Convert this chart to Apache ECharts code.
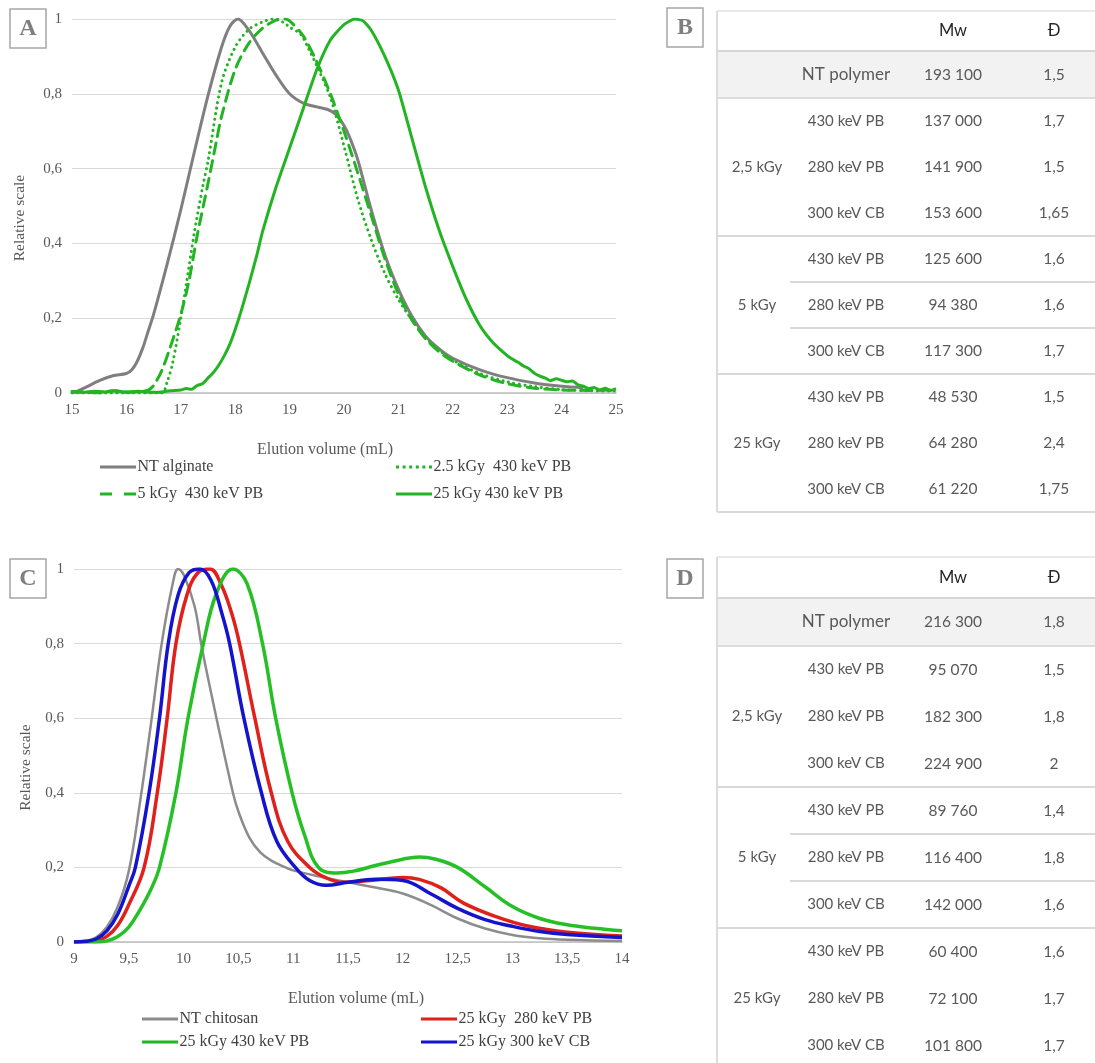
<!DOCTYPE html>
<html>
<head>
<meta charset="utf-8">
<script src="https://cdn.jsdelivr.net/npm/echarts@6/dist/echarts.min.js"></script>
<style>html,body{margin:0;padding:0;background:#fff;}#chart{width:1095px;height:1063px;}</style>
</head>
<body>
<div id="chart"></div>
<script>
// ---------- Panel A data: [elution volume (mL), relative scale] ----------
const aNtAlginate = [[15.0,0.0],[15.1,0.005],[15.25,0.015],[15.5,0.033],[15.75,0.046],[16.0,0.052],[16.1,0.062],[16.2,0.085],[16.3,0.12],[16.4,0.165],[16.5,0.21],[16.75,0.345],[17.0,0.49],[17.25,0.645],[17.5,0.795],[17.75,0.925],[17.9,0.98],[18.05,1.0],[18.25,0.97],[18.5,0.91],[18.75,0.85],[19.0,0.8],[19.25,0.775],[19.5,0.765],[19.7,0.758],[19.85,0.745],[20.0,0.715],[20.1,0.685],[20.25,0.625],[20.5,0.49],[20.75,0.37],[21.0,0.278],[21.25,0.205],[21.5,0.152],[21.75,0.118],[22.0,0.093],[22.5,0.062],[23.0,0.041],[23.5,0.027],[24.0,0.018],[24.4,0.014]];
const a25kGy430Dot = [[15.0,0.0],[16.0,0.0],[16.65,0.0],[16.75,0.03],[16.85,0.08],[17.0,0.2],[17.1,0.29],[17.25,0.43],[17.4,0.55],[17.5,0.62],[17.75,0.83],[18.0,0.925],[18.25,0.972],[18.5,0.992],[18.7,1.0],[18.9,0.99],[19.0,0.978],[19.2,0.96],[19.35,0.92],[19.5,0.875],[19.75,0.79],[20.0,0.66],[20.25,0.52],[20.5,0.41],[20.75,0.32],[21.0,0.25],[21.25,0.195],[21.5,0.148],[21.75,0.115],[22.0,0.088],[22.5,0.052],[23.0,0.03],[23.5,0.017],[24.0,0.009],[24.5,0.006],[25.0,0.005]];
const a5kGy430Dash = [[15.0,0.004],[15.25,0.002],[15.5,0.0],[15.75,0.006],[16.0,0.003],[16.25,0.004],[16.4,0.008],[16.5,0.02],[16.65,0.06],[16.8,0.12],[17.0,0.21],[17.15,0.3],[17.3,0.42],[17.5,0.56],[17.65,0.67],[17.75,0.74],[18.0,0.865],[18.25,0.935],[18.5,0.975],[18.75,0.997],[18.9,1.0],[19.0,0.995],[19.25,0.955],[19.5,0.885],[19.75,0.8],[20.0,0.7],[20.25,0.59],[20.5,0.475],[20.75,0.36],[21.0,0.265],[21.25,0.195],[21.5,0.145],[21.75,0.11],[22.0,0.085],[22.5,0.048],[23.0,0.025],[23.5,0.013],[24.0,0.008],[24.5,0.007],[25.0,0.008]];
const a25kGy430 = [[15.0,0.004],[15.2,0.002],[15.4,0.005],[15.6,0.003],[15.8,0.006],[16.0,0.002],[16.2,0.005],[16.4,0.003],[16.6,0.002],[16.8,0.006],[17.0,0.008],[17.1,0.012],[17.2,0.01],[17.3,0.02],[17.4,0.025],[17.5,0.04],[17.6,0.055],[17.7,0.075],[17.8,0.1],[17.9,0.13],[18.0,0.17],[18.1,0.215],[18.25,0.29],[18.4,0.37],[18.5,0.43],[18.75,0.55],[19.0,0.655],[19.25,0.76],[19.5,0.865],[19.75,0.944],[20.0,0.985],[20.2,1.0],[20.35,0.995],[20.5,0.97],[20.75,0.9],[21.0,0.81],[21.25,0.68],[21.5,0.55],[21.75,0.435],[22.0,0.338],[22.25,0.25],[22.5,0.18],[22.75,0.133],[23.0,0.1],[23.1,0.09],[23.2,0.082],[23.3,0.072],[23.4,0.065],[23.5,0.053],[23.6,0.045],[23.7,0.04],[23.8,0.033],[23.9,0.038],[24.0,0.034],[24.1,0.03],[24.2,0.032],[24.3,0.022],[24.4,0.018],[24.5,0.012],[24.6,0.015],[24.7,0.008],[24.8,0.013],[24.9,0.007],[25.0,0.012]];
const aNames = ['NT alginate', '2.5 kGy  430 keV PB', '5 kGy  430 keV PB', '25 kGy 430 keV PB'];

// ---------- Panel C data ----------
const cNtChitosan = [[9.0,0],[9.1,0.002],[9.2,0.012],[9.3,0.04],[9.4,0.095],[9.5,0.19],[9.6,0.37],[9.7,0.58],[9.8,0.8],[9.9,0.96],[9.95,1.0],[10.0,0.985],[10.1,0.9],[10.16,0.8],[10.2,0.74],[10.3,0.6],[10.45,0.4],[10.5,0.35],[10.6,0.28],[10.7,0.24],[10.8,0.218],[10.93,0.2],[11.0,0.192],[11.25,0.175],[11.5,0.16],[11.75,0.146],[12.0,0.13],[12.25,0.1],[12.5,0.063],[12.75,0.036],[13.0,0.019],[13.25,0.01],[13.5,0.006],[14.0,0.003]];
const c280PB = [[9.0,0],[9.2,0.003],[9.3,0.015],[9.4,0.045],[9.5,0.1],[9.64,0.2],[9.76,0.4],[9.85,0.6],[9.93,0.8],[10.03,0.93],[10.13,0.99],[10.24,1.0],[10.34,0.96],[10.44,0.88],[10.51,0.8],[10.65,0.6],[10.8,0.4],[10.95,0.27],[11.15,0.2],[11.3,0.172],[11.45,0.16],[11.7,0.165],[12.0,0.173],[12.15,0.168],[12.35,0.145],[12.55,0.105],[12.85,0.068],[13.15,0.042],[13.5,0.026],[14.0,0.016]];
const c430PB = [[9.0,0],[9.2,0.0],[9.3,0.003],[9.4,0.015],[9.5,0.04],[9.6,0.085],[9.7,0.14],[9.78,0.2],[9.93,0.4],[10.04,0.6],[10.18,0.8],[10.3,0.935],[10.45,1.0],[10.58,0.96],[10.72,0.8],[10.84,0.6],[10.99,0.4],[11.1,0.29],[11.23,0.2],[11.4,0.185],[11.55,0.19],[11.75,0.205],[12.0,0.222],[12.15,0.228],[12.3,0.222],[12.5,0.2],[12.75,0.148],[13.0,0.095],[13.25,0.063],[13.5,0.046],[13.75,0.037],[14.0,0.03]];
const c300CB = [[9.0,0],[9.1,0.002],[9.2,0.008],[9.3,0.03],[9.4,0.075],[9.5,0.15],[9.56,0.2],[9.685,0.4],[9.78,0.6],[9.86,0.8],[9.95,0.93],[10.05,0.99],[10.15,1.0],[10.25,0.97],[10.35,0.88],[10.42,0.8],[10.55,0.6],[10.71,0.4],[10.85,0.27],[11.02,0.2],[11.15,0.165],[11.3,0.152],[11.5,0.16],[11.75,0.168],[12.0,0.165],[12.25,0.13],[12.5,0.09],[12.75,0.06],[13.0,0.042],[13.25,0.028],[13.5,0.02],[14.0,0.012]];
const cNames = ['NT chitosan', '25 kGy  280 keV PB', '25 kGy 430 keV PB', '25 kGy 300 keV CB'];

// ---------- Tables B and D ----------
const tableHeaders = ['Mw', 'Đ'];
const ntLabel = 'NT polymer';
const doseGroups = ['2,5 kGy', '5 kGy', '25 kGy'];
const sources = ['430 keV PB', '280 keV PB', '300 keV CB'];
const tableB_mw = ['193 100','137 000','141 900','153 600','125 600','94 380','117 300','48 530','64 280','61 220'];
const tableB_d  = ['1,5','1,7','1,5','1,65','1,6','1,6','1,7','1,5','2,4','1,75'];
const tableD_mw = ['216 300','95 070','182 300','224 900','89 760','116 400','142 000','60 400','72 100','101 800'];
const tableD_d  = ['1,8','1,5','1,8','2','1,4','1,8','1,6','1,6','1,7','1,7'];
const panelLetters = ['A', 'B', 'C', 'D'];

// ---------- build ----------
const SERIF = '"Liberation Serif", "Times New Roman", serif';
const SANS = 'Lato, "Open Sans", sans-serif';
const fmt = v => String(Math.round(v * 10) / 10).replace('.', ',');

// legend icons (line samples)
const ICON_SOLID = 'path://M0,0h36v3h-36z';
const ICON_DASH = 'path://M0,0h12v3h-12z M24,0h12v3h-12z';
const ICON_DOT = 'path://M0,0h3v3h-3z M6.6,0h3v3h-3z M13.2,0h3v3h-3z M19.8,0h3v3h-3z M26.4,0h3v3h-3z M33,0h3v3h-3z';

function axisX(idx, min, max, interval, pad) {
  return {
    type: 'value', gridIndex: idx, min, max, interval,
    name: 'Elution volume (mL)', nameLocation: 'middle', nameGap: 49,
    nameTextStyle: { fontFamily: SERIF, fontSize: 16, color: '#595959', padding: pad },
    axisLine: { lineStyle: { color: '#bfbfbf', width: 1.5 } },
    axisTick: { show: false },
    splitLine: { show: false },
    axisLabel: { formatter: fmt, fontFamily: SERIF, fontSize: 15, color: '#595959', margin: 10 }
  };
}
function axisY(idx, gap) {
  return {
    type: 'value', gridIndex: idx, min: 0, max: 1, interval: 0.2,
    name: 'Relative scale', nameLocation: 'middle', nameGap: gap,
    nameTextStyle: { fontFamily: SERIF, fontSize: 15.5, color: '#595959', padding: [0, 24, 0, 0] },
    axisLine: { show: false }, axisTick: { show: false },
    splitLine: { lineStyle: { color: '#d9d9d9', width: 1 } },
    axisLabel: { formatter: fmt, fontFamily: SERIF, fontSize: 15, color: '#595959', margin: 10 }
  };
}
function line(name, data, xi, color, width, type, smooth) {
  return {
    name, type: 'line', data, xAxisIndex: xi, yAxisIndex: xi,
    showSymbol: false, symbol: 'none', smooth: smooth,
    lineStyle: { color, width, type: type || 'solid', cap: type ? 'round' : 'butt' },
    itemStyle: { color }, z: 3
  };
}
function legend(name, icon, left, top) {
  return {
    data: [{ name, icon }], left, top, padding: 0, itemWidth: 37, itemHeight: 3, itemGap: 0,
    selectedMode: false,
    textStyle: { fontFamily: SERIF, fontSize: 16, color: '#404040', lineHeight: 16, padding: [0, 0, 0, -4] }
  };
}

const GRAY = '#7f7f7f', GREEN = '#22b422', RED = '#e0201b', BLUE = '#1414cc', CGREEN = '#26c026';

const series = [
  line(aNames[0], aNtAlginate, 0, GRAY, 3, null, 0.3),
  line(aNames[1], a25kGy430Dot, 0, GREEN, 3, [0.1, 5.5], 0.3),
  line(aNames[2], a5kGy430Dash, 0, GREEN, 3, [11, 7], 0.3),
  line(aNames[3], a25kGy430, 0, GREEN, 3, null, 0.2),
  line(cNames[0], cNtChitosan, 1, '#8c8c8c', 2.5, null, 0.4),
  line(cNames[1], c280PB, 1, RED, 3.5, null, 0.4),
  line(cNames[2], c430PB, 1, CGREEN, 3.5, null, 0.4),
  line(cNames[3], c300CB, 1, BLUE, 3.5, null, 0.4)
];

// tables as graphic elements
function buildTable(top, headerH, ntH, rowH, mw, d, bottomLimit) {
  const L = 717, R = 1095, xDose = 757, xSrc = 846, xMw = 953, xD = 1054, innerL = 790;
  const els = [];
  const lineEl = (x1, y1, x2, y2, c, w) => ({ type: 'line', shape: { x1, y1, x2, y2 }, style: { stroke: c || '#d9d9d9', lineWidth: w || 2 }, z: 2 });
  const txt = (t, x, y, size, color) => ({ type: 'text', x, y, style: { text: t, align: 'center', verticalAlign: 'middle', font: size + 'px ' + SANS, fill: color || '#595959' }, z: 3 });
  const ntTop = top + headerH, rowsTop = ntTop + ntH;
  const bottom = rowsTop + 9 * rowH;
  els.push({ type: 'rect', shape: { x: L, y: ntTop, width: R - L, height: ntH }, style: { fill: '#f2f2f2' }, z: 1 });
  els.push(lineEl(L, top, R, top, '#e3e3e3', 1.5));
  els.push(lineEl(L, top, L, Math.min(bottom, bottomLimit), '#dcdcdc', 2));
  els.push(lineEl(L, ntTop, R, ntTop, '#d6d6d6', 2));
  els.push(lineEl(L, rowsTop, R, rowsTop, '#dcdcdc', 2));
  els.push(txt(tableHeaders[0], xMw, top + headerH / 2, 16.5, '#262626'));
  els.push(txt(tableHeaders[1], xD, top + headerH / 2, 16.5, '#262626'));
  els.push(txt(ntLabel, xSrc, ntTop + ntH / 2, 17, '#595959'));
  els.push(txt(mw[0], xMw, ntTop + ntH / 2, 15.5));
  els.push(txt(d[0], xD, ntTop + ntH / 2, 15.5));
  for (let g = 0; g < 3; g++) {
    const gTop = rowsTop + g * 3 * rowH;
    els.push(txt(doseGroups[g], xDose, gTop + 1.5 * rowH, 15));
    for (let r = 0; r < 3; r++) {
      const cy = gTop + (r + 0.5) * rowH, k = 1 + g * 3 + r;
      els.push(txt(sources[r], xSrc, cy, 15));
      els.push(txt(mw[k], xMw, cy, 15.5));
      els.push(txt(d[k], xD, cy, 15.5));
      if (g === 1 && r < 2) els.push(lineEl(innerL, gTop + (r + 1) * rowH, R, gTop + (r + 1) * rowH));
    }
    els.push(lineEl(L, gTop + 3 * rowH, R, gTop + 3 * rowH));
  }
  return els;
}
function letterBox(letter, x, y) {
  return [
    { type: 'rect', shape: { x, y, width: 36, height: 39 }, style: { fill: '#fff', stroke: '#a6a6a6', lineWidth: 1.5 }, z: 5 },
    { type: 'text', x: x + 18, y: y + 20, style: { text: letter, align: 'center', verticalAlign: 'middle', font: 'bold 24px ' + SERIF, fill: '#7f7f7f' }, z: 6 }
  ];
}

const graphics = [].concat(
  letterBox(panelLetters[0], 10, 9),
  letterBox(panelLetters[1], 667, 8),
  letterBox(panelLetters[2], 10, 559),
  letterBox(panelLetters[3], 667, 559),
  buildTable(11, 40, 47, 46, tableB_mw, tableB_d, 1063),
  buildTable(557, 41, 48, 47, tableD_mw, tableD_d, 1063)
);

const chart = echarts.init(document.getElementById('chart'), null, { renderer: 'canvas', width: 1095, height: 1063 });
chart.setOption({
  animation: false,
  backgroundColor: '#ffffff',
  grid: [
    { left: 72, top: 19, width: 544, height: 374 },
    { left: 74, top: 569, width: 548, height: 373 }
  ],
  xAxis: [axisX(0, 15, 25, 1, [0, 38, 0, 0]), axisX(1, 9, 14, 0.5, [0, 0, 0, 16])],
  yAxis: [axisY(0, 44), axisY(1, 30)],
  legend: [
    legend(aNames[0], ICON_SOLID, 100, 459),
    legend(aNames[2], ICON_DASH, 100, 486),
    legend(aNames[1], ICON_DOT, 396, 459),
    legend(aNames[3], ICON_SOLID, 396, 486),
    legend(cNames[0], ICON_SOLID, 142, 1011),
    legend(cNames[2], ICON_SOLID, 142, 1034),
    legend(cNames[1], ICON_SOLID, 421, 1011),
    legend(cNames[3], ICON_SOLID, 421, 1034)
  ],
  series,
  graphic: graphics
});
</script>
</body>
</html>
